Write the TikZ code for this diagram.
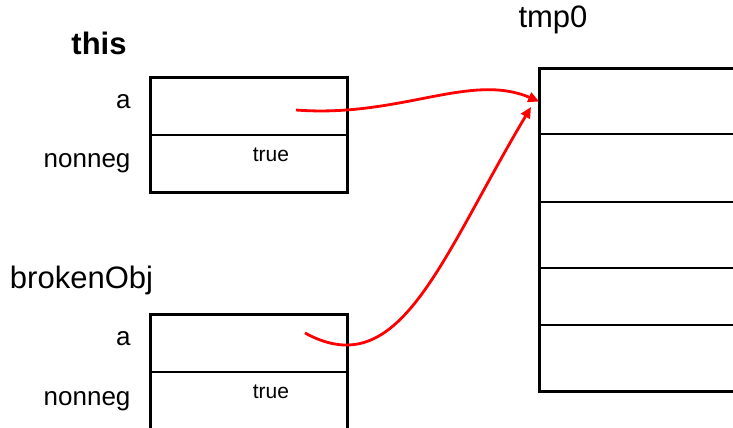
\documentclass[tikz,border=0pt]{standalone}
\usepackage{fontspec}
\setmainfont{Liberation Sans}
\usetikzlibrary{arrows.meta}
\begin{document}
\begin{tikzpicture}[x=1pt, y=-1pt,
    cell/.style={draw, line width=1.6pt, minimum width=196pt, minimum height=57pt, inner sep=0pt},
    slot/.style={draw, line width=1.6pt, minimum width=240pt, inner sep=0pt},
    lbl/.style={anchor=base east, font=\fontsize{26}{30}\selectfont},
    val/.style={anchor=base, font=\fontsize{21}{24}\selectfont},
    ttl/.style={anchor=base, font=\fontsize{31}{36}\selectfont},
    ref/.style={red, line width=2.8pt, -{Triangle[length=11pt,width=10pt]}}]
  \clip (0,0) rectangle (733,428);
  % object this
  \node[ttl] (thisT) at (99,55) {\bfseries this};
  \node[cell] (thisA) at (249,106.5) {};
  \node[cell] (thisN) at (249,163.5) {};
  \draw[line width=3pt] (thisA.north west) rectangle (thisN.south east);
  \node[lbl] (thisAl) at (134,108) {a};
  \node[lbl] (thisNl) at (134,167) {nonneg};
  \node[val] (thisNv) at (271,161) {true};
  % object brokenObj
  \node[ttl] (brkT) at (81.5,288) {brokenObj};
  \node[cell] (brkA) at (249,343.5) {};
  \node[cell] (brkN) at (249,400.5) {};
  \draw[line width=3pt] (brkA.north west) rectangle (brkN.south east);
  \node[lbl] (brkAl) at (134,345) {a};
  \node[lbl] (brkNl) at (134,405) {nonneg};
  \node[val] (brkNv) at (271,398) {true};
  % array tmp0
  \node[ttl] (tmpT) at (553,28) {tmp0};
  \node[slot, minimum height=65pt] (tmpA) at (660,101.5) {};
  \node[slot, minimum height=68pt] (tmpB) at (660,168) {};
  \node[slot, minimum height=66pt] (tmpC) at (660,235) {};
  \node[slot, minimum height=57pt] (tmpD) at (660,296.5) {};
  \node[slot, minimum height=66pt] (tmpE) at (660,358) {};
  \draw[line width=3pt] (tmpA.north west) rectangle (tmpE.south east);
  % references
  \coordinate (thisP) at (296,110);
  \coordinate (brkP) at (305,333);
  \coordinate (tmpIn) at (531,107);
  \draw[ref] (thisP) .. controls (400,118) and (470,72) .. (tmpA.west);
  \draw[ref] (brkP) .. controls (400,385) and (440,260) .. (tmpIn);
\end{tikzpicture}
\end{document}
